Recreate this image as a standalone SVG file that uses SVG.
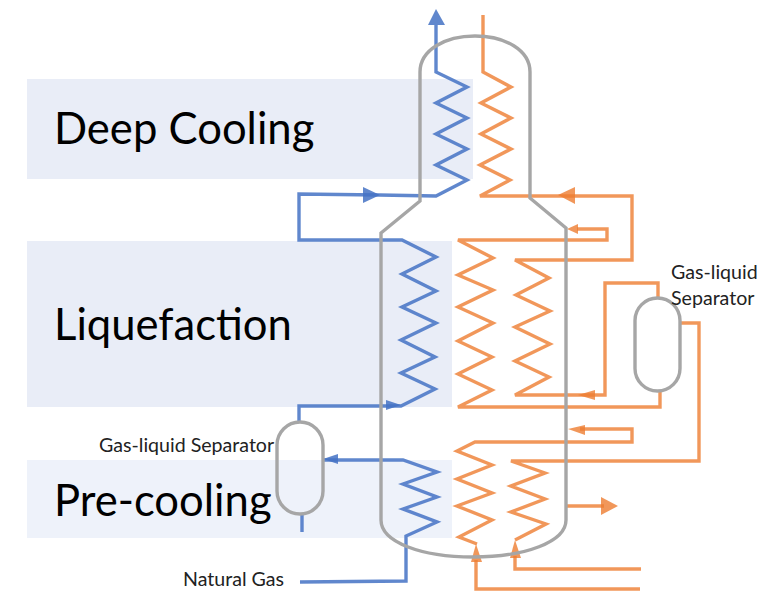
<svg xmlns="http://www.w3.org/2000/svg" width="774" height="592" viewBox="0 0 774 592">
<style>
.band{fill:#e9edf7;stroke:none}
.big{font-family:"Lato","Open Sans",sans-serif;font-size:43.6px;fill:#000}
.small{font-family:"Lato","Open Sans",sans-serif;font-size:19.6px;fill:#222}
.g{fill:none;stroke:#a6a6a6;stroke-width:3.4}
.b{fill:none;stroke:#4472c4;stroke-width:3.4;stroke-opacity:.85}
.o{fill:none;stroke:#ed7d31;stroke-width:3.4;stroke-opacity:.8}
.bh{fill:#4472c4;fill-opacity:.85}
.oh{fill:#ed7d31;fill-opacity:.8}
</style>
<g id="band-deep-cooling"><rect class="band" x="27" y="79" width="446" height="100"/><text class="big" x="54" y="144">Deep Cooling</text></g>
<g id="band-liquefaction"><rect class="band" x="27" y="241" width="425" height="166"/><text class="big" x="54" y="340">Liquefaction</text></g>
<g id="band-pre-cooling"><rect class="band" x="27" y="460" width="425" height="78" style="fill:#eef2fa"/><text class="big" x="54" y="516">Pre-cooling</text></g>
<g id="connectors">
<path class="b" d="M436 25V72L467 87 436 103 467 118 436 134 467 149 436 165 467 180 436 196 379 195 299 194V240H402L436 257 402 274 436 291 402 307 436 323 401 340 435 357 401 373 435 389 401 406 299 406V421"/>
<path class="bh" d="M436 9L445 25H428Z"/>
<path class="bh" d="M380 195L363 187V203Z"/>
<path class="bh" d="M401 405L386 400V410Z"/>
<path class="b" d="M323 460H403L437 472 403 484 437 497 403 509 437 522 406 536V581L300 582"/>
<path class="bh" d="M323 459L338 454V464Z"/>
<path class="b" d="M302 515V532"/>
<path class="o" d="M483 15V72L511 87 481 103 511 118 481 134 511 149 480 165 510 180 480 196H632V260H515L549 278 516 295 550 311 515 327 550 344 515 361 549 377 515 395H605V283H658V297"/>
<path class="oh" d="M558 195L575 187V204Z"/>
<path class="oh" d="M578 395L595 390V400Z"/>
<path class="o" d="M577 229H607V240H458L493 258 458 275 493 290 458 307 493 323 458 341 492 357 458 374 492 390 458 407H660V390"/>
<path class="oh" d="M567 229L578 224V234Z"/>
<path class="o" d="M680 323H699V461H511L545 473 511 486 545 499 511 512 546 524 515 540"/>
<path class="o" d="M580 429H632V442H475L457 451 492 465 457 479 492 493 457 506 492 520 459 537 477 544"/>
<path class="oh" d="M568 429L585 425V435Z"/>
<path class="o" d="M567 506H604"/>
<path class="oh" d="M618 506L601 497V515Z"/>
<path class="oh" d="M515 540L521 558H510Z"/>
<path class="oh" d="M476 544L482 562H471Z"/>
<path class="o" d="M515 556V569H641"/>
<path class="o" d="M476 560V589H640"/>
</g>
<g id="vessel"><path class="g" d="M420 201V72C420 50 445 36 475 36S530 50 530 72V198L566 228V520C566 542 525 557 473 557S381 542 381 520V233Z"/></g>
<g id="separator-upper"><rect class="g" x="635" y="298" width="45" height="93" rx="22.5"/><text class="small" x="671" y="279">Gas-liquid</text><text class="small" x="671" y="305">Separator</text></g>
<g id="separator-lower"><rect class="g" x="277" y="422" width="46" height="92" rx="23"/><text class="small" x="99" y="452">Gas-liquid Separator</text></g>
<g id="natural-gas-label"><text class="small" x="183" y="586">Natural Gas</text></g>
</svg>
